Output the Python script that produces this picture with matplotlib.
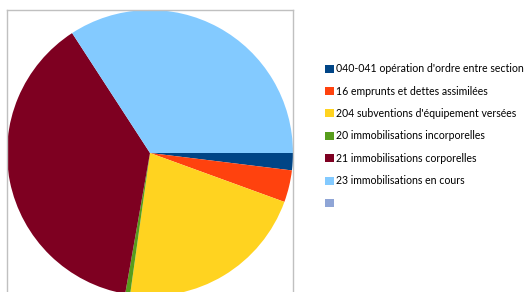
import matplotlib.pyplot as plt
from matplotlib.patches import Patch

# valeurs estimees (en degres de la part du camembert)
labels = ["040-041 opération d'ordre entre section",
          "16 emprunts et dettes assimilées",
          "204 subventions d'équipement versées",
          "20 immobilisations incorporelles",
          "21 immobilisations corporelles",
          "23 immobilisations en cours",
          ""]
values = [7, 13, 78, 2, 137, 123]
colors = ['#004586', '#ff420e', '#ffd320', '#579d1c', '#7e0021', '#83caff', '#8fa5d6']

plt.rcParams['font.family'] = ['Lato', 'DejaVu Sans']

fig = plt.figure(figsize=(5.24, 2.92), dpi=100)
ax = fig.add_axes([7 / 524, -4 / 292, 286 / 524, 286 / 292])
wedges, _ = ax.pie(values, colors=colors[:len(values)], startangle=0,
                   counterclock=False, radius=1)
ax.set_xlim(-1, 1)
ax.set_ylim(-1, 1)
ax.set_aspect('auto')
ax.set_frame_on(True)
ax.set_xticks([])
ax.set_yticks([])
for s in ax.spines.values():
    s.set_visible(True)
    s.set_color('#c0c0c0')
    s.set_linewidth(1)

handles = list(wedges) + [Patch(facecolor=colors[6])]
leg = fig.legend(handles, labels, loc='upper left', bbox_to_anchor=(321 / 524, 1 - 59 / 292),
                 frameon=False, fontsize=7.6, handlelength=0.8, handleheight=0.8,
                 handletextpad=0.2, labelspacing=1.08, borderaxespad=0)

fig.savefig('out.png', dpi=100)
